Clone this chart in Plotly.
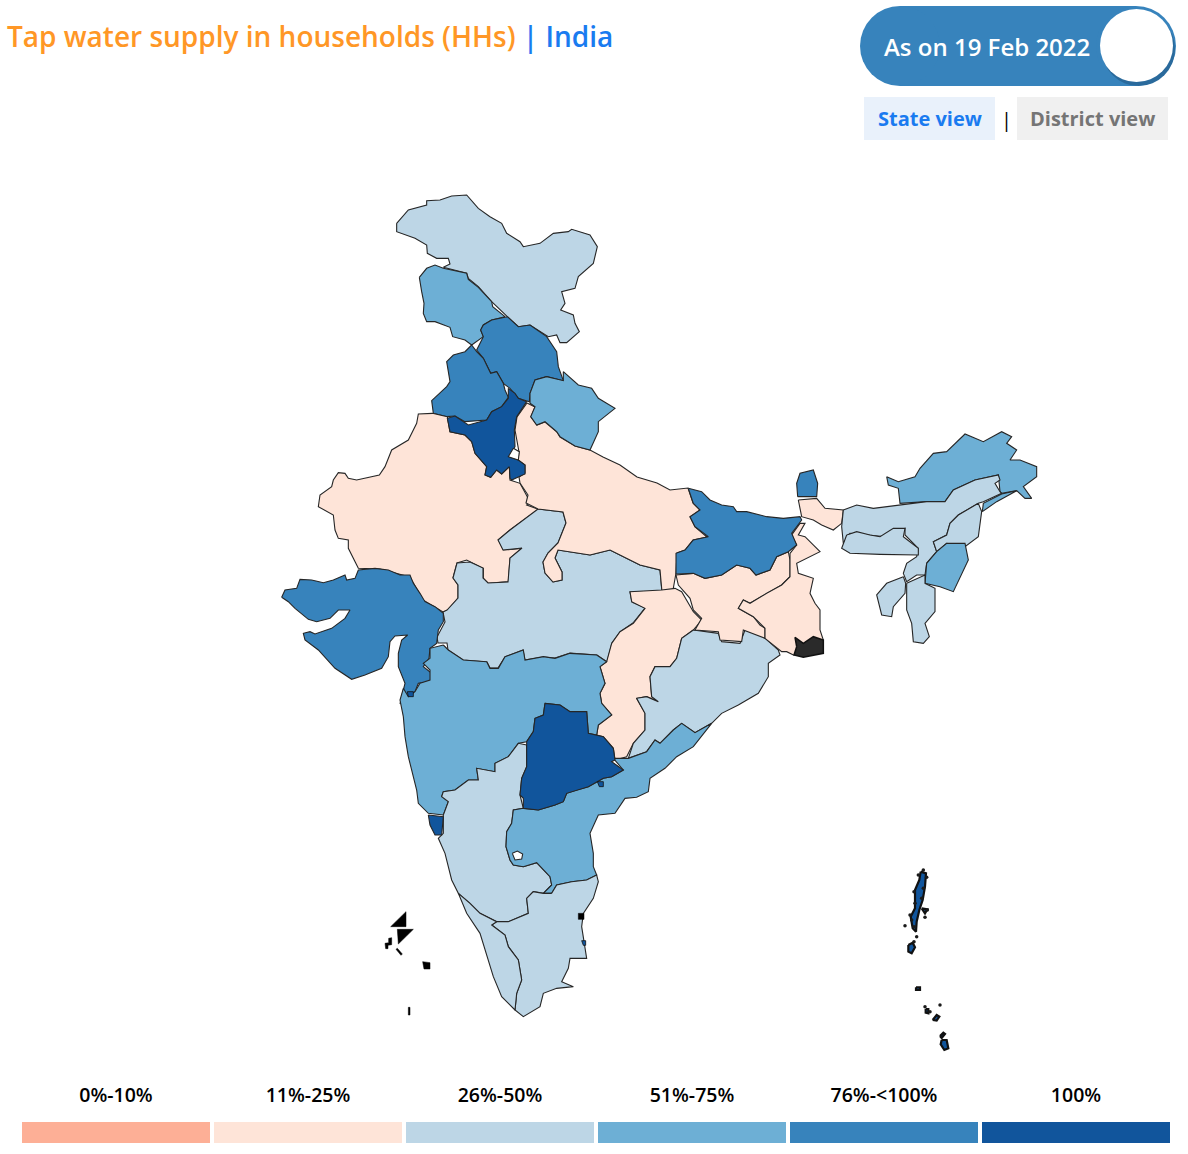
import plotly.graph_objects as go

TITLE_MAIN = "Tap water supply in households (HHs)"
TITLE_PLACE = "India"
DATE_LABEL = "As on 19 Feb 2022"
BAND_LABELS = ["0%-10%", "11%-25%", "26%-50%", "51%-75%", "76%-<100%", "100%"]
BAND_COLOURS = ["#FDAF96", "#FEE4D8", "#BDD6E6", "#6DAFD5", "#3783BC", "#11559C"]
LEGEND_SPAN = [1, 1, 1, 1, 1, 1]

STATE_NAMES = ["Jammu & Kashmir", "Himachal North", "Himachal", "Punjab", "Rajasthan", "Madhya Pradesh",
               "Uttar Pradesh", "Haryana", "Delhi", "Uttarakhand", "Gujarat", "Chhattisgarh", "Odisha",
               "Jharkhand", "West Bengal", "North Bengal", "Sundarbans", "Bihar", "Sikkim", "Arunachal Pradesh",
               "Tirap", "Assam", "Meghalaya", "Nagaland", "Manipur", "Mizoram", "Tripura", "Maharashtra",
               "Karnataka", "Andhra Pradesh", "Telangana", "Goa", "Tamil Nadu", "Kerala", "Bengaluru"]
STATE_BAND = [2, 3, 4, 4, 1, 2, 1, 5, None, 3, 4, 1, 2, 1, 1, 1, 1, 4, 4, 3, 3, 2, 2, 2, 3, 2, 2, 3, 2, 3, 5, 5, 2, 2, None]

# outline tracing: each is drawn in one of these map sheets (left, top, scale)
SHEETS = {"A": (270, 190, 3), "B": (650, 420, 3), "C": (380, 560, 3), "F": (0, 0, 1), "G": (275, 560, 3), "L": (370, 900, 3), "N": (890, 860, 3)}
OUTLINES = {
 "Jammu & Kashmir": ("A", [(380,100),(415,60),(470,45),(470,32),(510,30),(545,18),(590,15),(625,55),(660,80),(695,100),(710,130),(750,155),(760,170),(810,160),(850,130),(895,125),(905,118),(960,135),(982,170),(970,220),(925,260),(915,295),(875,305),(885,340),(872,360),(910,375),(915,400),(928,425),(890,458),(870,458),(860,435),(835,440),(780,405),(745,410),(712,380),(665,335),(625,290),(595,265),(590,250),(520,232),(540,222),(535,205),(500,205),(472,190),(470,165),(435,145),(380,125)]),
 "Himachal North": ("A", [(448,262),(470,235),(495,225),(520,235),(590,250),(595,268),(625,292),(665,335),(668,350),(705,380),(665,390),(640,405),(632,420),(640,440),(605,465),(585,450),(548,440),(540,412),(495,395),(470,395),(460,370),(462,340),(455,305)]),
 "Himachal": ("A", [(712,380),(745,410),(780,405),(830,440),(860,485),(865,530),(880,572),(830,560),(795,570),(780,610),(778,635),(745,625),(720,595),(700,580),(680,545),(662,550),(640,505),(620,480),(640,440),(632,420),(640,405),(665,390)]),
 "Punjab": ("A", [(605,465),(620,485),(640,505),(662,550),(680,545),(700,580),(705,600),(715,622),(695,650),(665,665),(650,690),(600,695),(585,695),(555,678),(530,680),(490,670),(485,632),(530,590),(540,575),(530,515),(550,495),(585,485)]),
 "Rajasthan": ("A", [(487,670),(445,672),(440,700),(415,750),(365,780),(345,830),(328,855),(260,870),(235,865),(225,850),(205,848),(190,870),(185,890),(150,915),(145,950),(190,975),(195,1020),(205,1045),(235,1050),(235,1075),(265,1135),(330,1137),(420,1161),(459,1230),(519,1266),(534,1260),(564,1224),(564,1185),(549,1164),(561,1119),(590,1110),(640,1135),(640,1165),(655,1180),(715,1175),(720,1105),(755,1075),(700,1080),(685,1050),(720,1020),(805,958),(770,945),(780,935),(750,880),(720,870),(718,830),(695,852),(680,840),(662,862),(645,855),(650,830),(615,790),(605,755),(585,735),(540,725),(532,680)]),
 "Madhya Pradesh": ("F", [(538,509),(563,512),(566,523),(558,543),(548,553),(543,562),(545,573),(553,582),(562,580),(562,572),(555,558),(558,550),(590,555),(610,550),(640,565),(660,570),(662,592),(630,592),(632,602),(645,608),(633,623),(620,632),(612,643),(607,662),(597,655),(570,653),(555,658),(543,657),(525,660),(523,650),(505,657),(498,668),(490,668),(487,662),(463,660),(448,650),(447,643),(438,643),(437,637),(445,622),(443,612),(447,610),(458,598),(458,585),(453,578),(457,563),(470,562),(483,568),(483,578),(488,583),(508,582),(510,558),(522,548),(503,550),(498,540),(510,530)]),
 "Uttar Pradesh": ("F", [(527,403),(535,407),(531,417),(537,425),(545,422),(557,432),(560,437),(575,446),(590,450),(603,457),(620,465),(637,477),(657,483),(670,490),(688,488),(693,503),(700,510),(690,517),(695,527),(707,537),(693,540),(685,550),(677,553),(676,573),(673,590),(662,592),(660,570),(640,565),(610,550),(590,555),(558,550),(555,558),(562,572),(562,580),(553,582),(545,573),(543,562),(548,553),(558,543),(566,523),(563,512),(538,509),(526,503),(528,495),(520,483),(519,477),(525,473),(525,465),(518,460),(519,452),(515,430),(517,417)]),
 "Haryana": ("A", [(715,595),(735,610),(745,625),(770,635),(740,680),(733,720),(735,770),(718,800),(745,810),(765,825),(765,852),(725,870),(720,865),(718,830),(695,852),(680,840),(662,862),(645,855),(650,830),(615,790),(605,755),(585,735),(540,725),(532,685),(555,678),(595,705),(650,690),(665,665),(695,650),(715,625)]),
 "Delhi": ("A", [(730,775),(748,785),(745,810),(715,800)]),
 "Uttarakhand": ("A", [(780,610),(795,570),(830,560),(880,572),(880,545),(925,585),(965,595),(985,625),(1035,655),(985,695),(985,725),(975,745),(960,780),(915,768),(870,740),(860,725),(825,695),(800,705),(782,680),(795,650),(780,640)]),
 "Gujarat": ("G", [(20,112),(30,90),(65,85),(75,58),(110,60),(145,68),(175,60),(210,45),(215,60),(240,55),(250,30),(300,25),(340,30),(375,45),(405,45),(415,70),(435,100),(450,125),(480,140),(505,160),(505,185),(490,210),(485,250),(465,265),(462,295),(445,320),(470,340),(465,365),(430,370),(420,395),(390,415),(375,432),(385,390),(390,370),(370,320),(370,280),(380,240),(398,225),(360,228),(345,245),(340,290),(320,325),(270,345),(230,358),(180,325),(130,270),(90,240),(85,220),(105,215),(120,222),(170,205),(210,175),(225,150),(190,150),(165,175),(125,185),(100,178),(60,145),(40,125)]),
 "Chhattisgarh": ("C", [(845,90),(885,85),(905,95),(940,155),(965,180),(940,210),(905,235),(890,295),(870,320),(825,320),(810,350),(815,410),(835,425),(800,410),(770,415),(795,460),(795,510),(760,550),(740,590),(705,600),(700,565),(670,530),(650,525),(655,495),(695,465),(665,430),(660,400),(675,370),(660,320),(680,305),(695,250),(720,215),(760,190),(795,145),(755,125),(750,95)]),
 "Odisha": ("C", [(940,210),(1015,220),(1025,245),(1080,250),(1095,210),(1150,230),(1195,270),(1200,285),(1165,310),(1165,350),(1135,400),(1075,435),(1025,460),(995,490),(945,518),(905,490),(880,510),(840,550),(825,540),(800,575),(745,595),(760,550),(795,510),(795,460),(770,415),(800,410),(835,425),(815,410),(810,350),(825,320),(870,320),(890,295),(905,235)]),
 "Jharkhand": ("B", [(78,465),(130,460),(165,475),(215,465),(260,435),(300,445),(318,465),(360,450),(380,410),(415,395),(420,420),(420,470),(395,495),(350,520),(300,550),(280,540),(265,565),(310,590),(330,615),(345,625),(345,655),(280,630),(275,665),(210,660),(205,635),(135,630),(155,595),(130,570),(120,535),(85,495)]),
 "West Bengal": ("B", [(420,400),(440,375),(425,345),(450,310),(465,310),(445,345),(465,350),(510,395),(440,430),(445,460),(490,475),(480,520),(495,550),(510,570),(510,630),(520,660),(520,700),(430,705),(410,695),(395,695),(345,655),(345,625),(310,590),(265,565),(280,540),(300,550),(350,520),(395,495),(420,470)]),
 "North Bengal": ("B", [(445,240),(500,235),(525,265),(580,270),(575,310),(550,330),(515,315),(490,300),(455,290),(450,260)]),
 "Sundarbans": ("B", [(440,680),(435,652),(460,670),(490,650),(520,660),(520,700),(460,712),(432,705)]),
 "Bihar": ("B", [(115,205),(155,215),(180,240),(215,255),(250,260),(260,275),(290,275),(350,290),(400,295),(450,290),(455,300),(425,340),(440,375),(415,395),(380,410),(360,450),(318,465),(300,445),(260,435),(215,465),(165,475),(130,460),(78,462),(78,400),(105,390),(130,360),(175,350),(135,320),(120,290),(150,270),(130,250)]),
 "Sikkim": ("B", [(443,230),(440,190),(450,160),(490,150),(503,190),(500,230)]),
 "Arunachal Pradesh": ("B", [(710,170),(745,185),(795,170),(810,145),(850,100),(890,95),(945,42),(1000,65),(1055,35),(1085,50),(1070,70),(1100,90),(1080,120),(1110,120),(1160,140),(1160,170),(1120,200),(1145,235),(1125,235),(1100,212),(1055,220),(1050,215),(1045,165),(975,180),(910,210),(885,245),(830,245),(750,250),(745,205),(715,195)]),
 "Tirap": ("B", [(1100,212),(1055,222),(1000,250),(997,275),(1040,245)]),
 "Assam": ("B", [(580,270),(620,255),(670,265),(745,255),(830,245),(885,245),(910,210),(975,180),(1045,165),(1050,180),(1035,190),(1050,215),(1055,220),(1000,245),(985,250),(925,285),(900,310),(890,345),(850,365),(860,395),(830,430),(825,465),(800,465),(770,485),(760,460),(770,430),(800,410),(805,385),(765,345),(765,325),(700,350),(600,340),(580,370),(575,320)]),
 "Meghalaya": ("B", [(590,345),(620,335),(660,345),(690,350),(730,325),(765,325),(760,350),(805,385),(805,405),(770,405),(690,403),(600,400),(575,385)]),
 "Nagaland": ("B", [(985,250),(995,275),(985,350),(945,380),(890,370),(860,395),(850,365),(890,345),(900,310),(925,285)]),
 "Manipur": ("B", [(860,395),(890,370),(945,370),(955,420),(910,515),(870,500),(825,490),(830,430)]),
 "Mizoram": ("B", [(770,490),(825,465),(825,490),(855,505),(855,575),(825,610),(838,650),(820,670),(790,665),(785,610),(770,570)]),
 "Tripura": ("B", [(760,470),(767,490),(765,520),(730,560),(725,590),(695,585),(680,525),(710,490)]),
 "Maharashtra": ("C", [(190,255),(205,270),(250,300),(320,305),(330,325),(355,325),(375,290),(430,270),(435,300),(490,290),(525,295),(570,280),(650,285),(680,305),(660,320),(675,370),(660,400),(665,430),(695,465),(655,495),(650,525),(625,520),(620,455),(570,455),(540,435),(495,430),(490,465),(465,475),(460,515),(440,545),(415,550),(385,590),(345,610),(345,635),(290,625),(295,660),(265,660),(225,690),(190,695),(185,710),(205,725),(190,765),(145,760),(115,730),(110,690),(85,590),(75,530),(70,470),(60,420),(70,385),(85,410),(105,395),(120,370),(150,360),(150,330),(130,310),(150,295),(150,265)]),
 "Karnataka": ("C", [(440,555),(440,620),(425,655),(420,705),(430,745),(400,750),(395,790),(380,815),(378,860),(390,900),(400,915),(430,920),(470,908),(510,950),(515,975),(490,1000),(460,995),(440,1015),(445,1060),(385,1085),(350,1085),(300,1060),(270,1030),(235,1000),(215,960),(195,880),(175,835),(190,820),(190,765),(205,725),(185,710),(190,695),(225,690),(265,660),(295,660),(290,625),(345,635),(345,610),(385,590),(415,550)]),
 "Andhra Pradesh": ("C", [(700,595),(745,595),(800,575),(825,540),(840,550),(880,510),(905,490),(945,518),(995,490),(940,560),(890,590),(855,625),(810,655),(805,695),(770,712),(735,715),(705,760),(655,765),(630,820),(640,880),(640,920),(650,945),(620,960),(575,965),(530,975),(515,1000),(490,1000),(515,975),(510,950),(470,908),(430,920),(400,915),(390,900),(378,860),(380,815),(395,790),(400,750),(430,745),(475,750),(525,735),(550,725),(560,700),(590,690),(625,680),(670,655),(695,650),(730,630)]),
 "Telangana": ("C", [(495,430),(540,435),(570,455),(620,455),(625,520),(670,530),(700,565),(705,600),(695,605),(730,630),(695,650),(670,655),(625,680),(590,690),(560,700),(550,725),(525,735),(475,750),(430,745),(430,715),(420,705),(425,655),(440,620),(440,545),(460,515),(465,475),(490,465)]),
 "Goa": ("C", [(145,765),(190,770),(185,825),(165,825),(150,795)]),
 "Tamil Nadu": ("C", [(515,1000),(530,975),(575,965),(620,960),(650,945),(655,965),(640,1015),(610,1060),(605,1100),(620,1195),(570,1195),(565,1225),(545,1265),(580,1280),(530,1285),(490,1300),(480,1340),(430,1370),(405,1350),(410,1300),(425,1260),(415,1200),(385,1160),(375,1125),(335,1095),(350,1085),(385,1085),(445,1060),(440,1015),(460,995),(490,1000)]),
 "Kerala": ("C", [(235,1000),(270,1030),(300,1060),(350,1085),(335,1095),(375,1125),(385,1160),(415,1200),(425,1260),(410,1300),(405,1350),(365,1310),(340,1250),(300,1120),(260,1060)]),
 "Bengaluru": ("C", [(397,880),(412,873),(428,882),(425,897),(405,900)]),
}
# tiny territories and islands
ISLAND_BLACK = [("L", [(108,35),(62,80),(108,80)]), ("L", [(82,88),(130,88),(85,132)]),
                ("L", [(45,130),(56,128),(56,115),(65,113),(65,134),(54,136),(54,146),(47,146)]),
                ("L", [(78,148),(82,145),(97,162),(93,166)]), ("L", [(158,185),(180,188),(180,207),(162,207)]),
                ("L", [(115,322),(120,322),(120,345),(115,345)]), ("C", [(595,1060),(612,1060),(612,1078),(595,1078)])]
ISLAND_BLUE = [("N", [(92,35),(108,40),(105,80),(98,120),(88,150),(80,185),(78,215),(68,205),(62,170),(75,145),(75,90),(88,60)]),
               ("N", [(55,255),(68,248),(75,262),(65,280),(55,275)]), ("N", [(78,382),(90,382),(90,390),(78,390)]),
               ("N", [(107,447),(115,447),(115,460),(107,458)]), ("N", [(128,480),(140,465),(148,470),(140,482)]),
               ("N", [(155,540),(170,540),(175,565),(163,570),(152,553)]), ("N", [(150,528),(160,518),(165,522),(155,534)]),
               ("N", [(95,145),(112,148),(105,160)]),
               ("C", [(605,1142),(617,1142),(617,1156),(610,1156)]), ("C", [(82,395),(100,395),(100,410),(85,410)]),
               ("C", [(652,665),(670,665),(670,680),(658,680)])]
ISLAND_DOTS = [("N", 45, 197), ("N", 100, 30), ("N", 105, 172), ("N", 80, 230), ("N", 72, 245), ("N", 150, 435),
               ("N", 105, 440), ("N", 120, 455), ("N", 85, 45), ("N", 110, 52), ("N", 72, 95), ("N", 75, 130),
               ("N", 112, 150), ("N", 65, 180), ("N", 72, 200), ("N", 95, 115), ("N", 60, 165), ("N", 100, 85)]


def place(sheet, pts):
    left, top, k = SHEETS[sheet]
    xs = [left + p[0] / k for p in pts]
    ys = [top + p[1] / k for p in pts]
    return xs + xs[:1], ys + ys[:1]


fig = go.Figure()
EDGE = "#262626"
for name, band in zip(STATE_NAMES, STATE_BAND):
    sheet, pts = OUTLINES[name]
    x, y = place(sheet, pts)
    fill = "#FFFFFF" if band is None else BAND_COLOURS[band]
    if name == "Sundarbans":
        fig.add_trace(go.Scatter(x=x, y=y, mode="lines", fill="toself", fillcolor="#2a2a2a",
                                 line=dict(color="#111111", width=1.5), name=name, showlegend=False))
        continue
    fig.add_trace(go.Scatter(x=x, y=y, mode="lines", fill="toself", fillcolor=fill,
                             line=dict(color=EDGE, width=1.1), name=name, showlegend=False,
                             hoverinfo="name"))
for sheet, pts in ISLAND_BLACK:
    x, y = place(sheet, pts)
    fig.add_trace(go.Scatter(x=x, y=y, mode="lines", fill="toself", fillcolor="#000000",
                             line=dict(color="#000000", width=0.5), showlegend=False, hoverinfo="skip"))
for sheet, pts in ISLAND_BLUE:
    x, y = place(sheet, pts)
    thick = 2.2 if sheet == "N" else 0.8
    fig.add_trace(go.Scatter(x=x, y=y, mode="lines", fill="toself", fillcolor=BAND_COLOURS[5],
                             line=dict(color="#111111", width=thick), showlegend=False, hoverinfo="skip"))
fig.add_trace(go.Scatter(x=[SHEETS[s][0] + a / 3 for s, a, b in ISLAND_DOTS],
                         y=[SHEETS[s][1] + b / 3 for s, a, b in ISLAND_DOTS],
                         mode="markers", marker=dict(color="#1a1a1a", size=3.5), showlegend=False, hoverinfo="skip"))

# legend strip: real bars on their own axes
fig.add_trace(go.Bar(x=BAND_LABELS, y=LEGEND_SPAN, marker=dict(color=BAND_COLOURS, line_width=0),
                     xaxis="x2", yaxis="y2", showlegend=False, hoverinfo="x"))

TEXT_FONT = "Open Sans"
ann = [
    dict(x=5, y=36, xanchor="left", yanchor="middle",
         text=f'<span style="color:#FF9726">{TITLE_MAIN}</span>'
              f'<span style="color:#1A7BF0"> | {TITLE_PLACE}</span>',
         font=dict(family=TEXT_FONT, size=28, weight=600)),
    dict(x=987, y=46, text=DATE_LABEL, xanchor="center", yanchor="middle",
         font=dict(family=TEXT_FONT, size=24, color="#FFFFFF", weight=600)),
    dict(x=929.5, y=118, text="State view", xanchor="center", yanchor="middle",
         font=dict(family=TEXT_FONT, size=20, color="#1A7BF0", weight=700)),
    dict(x=1092.5, y=118, text="District view", xanchor="center", yanchor="middle",
         font=dict(family=TEXT_FONT, size=20, color="#757575", weight=700)),
    dict(x=1006, y=119, text="|", xanchor="center", yanchor="middle",
         font=dict(family=TEXT_FONT, size=20, color="#000000")),
]
ann = [dict(a, xref="x", yref="y", showarrow=False) for a in ann]

shapes = [
    dict(type="rect", x0=900, y0=6, x1=1136, y1=86, fillcolor="#3783BC", line_width=0, layer="below"),
    dict(type="circle", x0=860, y0=6, x1=940, y1=86, fillcolor="#3783BC", line_width=0, layer="below"),
    dict(type="circle", x0=1096, y0=6, x1=1176, y1=86, fillcolor="#3783BC", line_width=0, layer="below"),
    dict(type="circle", x0=1102, y0=12, x1=1175, y1=86, fillcolor="#2A6A9C", line_width=0),
    dict(type="circle", x0=1100, y0=9, x1=1173, y1=82, fillcolor="#FFFFFF", line_width=0),
    dict(type="rect", x0=864, y0=97, x1=995, y1=140, fillcolor="#E9F1FB", line_width=0, layer="below"),
    dict(type="rect", x0=1017, y0=97, x1=1168, y1=140, fillcolor="#F0F0F0", line_width=0, layer="below"),
]
shapes = [dict(s, xref="x", yref="y") for s in shapes]

fig.update_layout(
    width=1188, height=1154, margin=dict(l=0, r=0, t=0, b=0),
    paper_bgcolor="#FFFFFF", plot_bgcolor="#FFFFFF", showlegend=False,
    xaxis=dict(range=[0, 1188], visible=False, domain=[0, 1]),
    yaxis=dict(range=[1154, 0], visible=False, domain=[0, 1]),
    xaxis2=dict(domain=[20 / 1188, 1172 / 1188], anchor="y2", side="top", type="category",
                ticks="outside", ticklen=11, tickcolor="rgba(0,0,0,0)", showline=False, showgrid=False,
                tickfont=dict(family=TEXT_FONT, size=19.5, color="#000000", weight=600), tickangle=0),
    yaxis2=dict(domain=[1 - 1143 / 1154, 1 - 1122 / 1154], range=[0, 1], anchor="x2", visible=False),
    bargap=4 / 192,
    annotations=ann, shapes=shapes,
)
fig.write_html("out.html", config={"displayModeBar": False},
               post_script="document.body.style.margin='0';")
